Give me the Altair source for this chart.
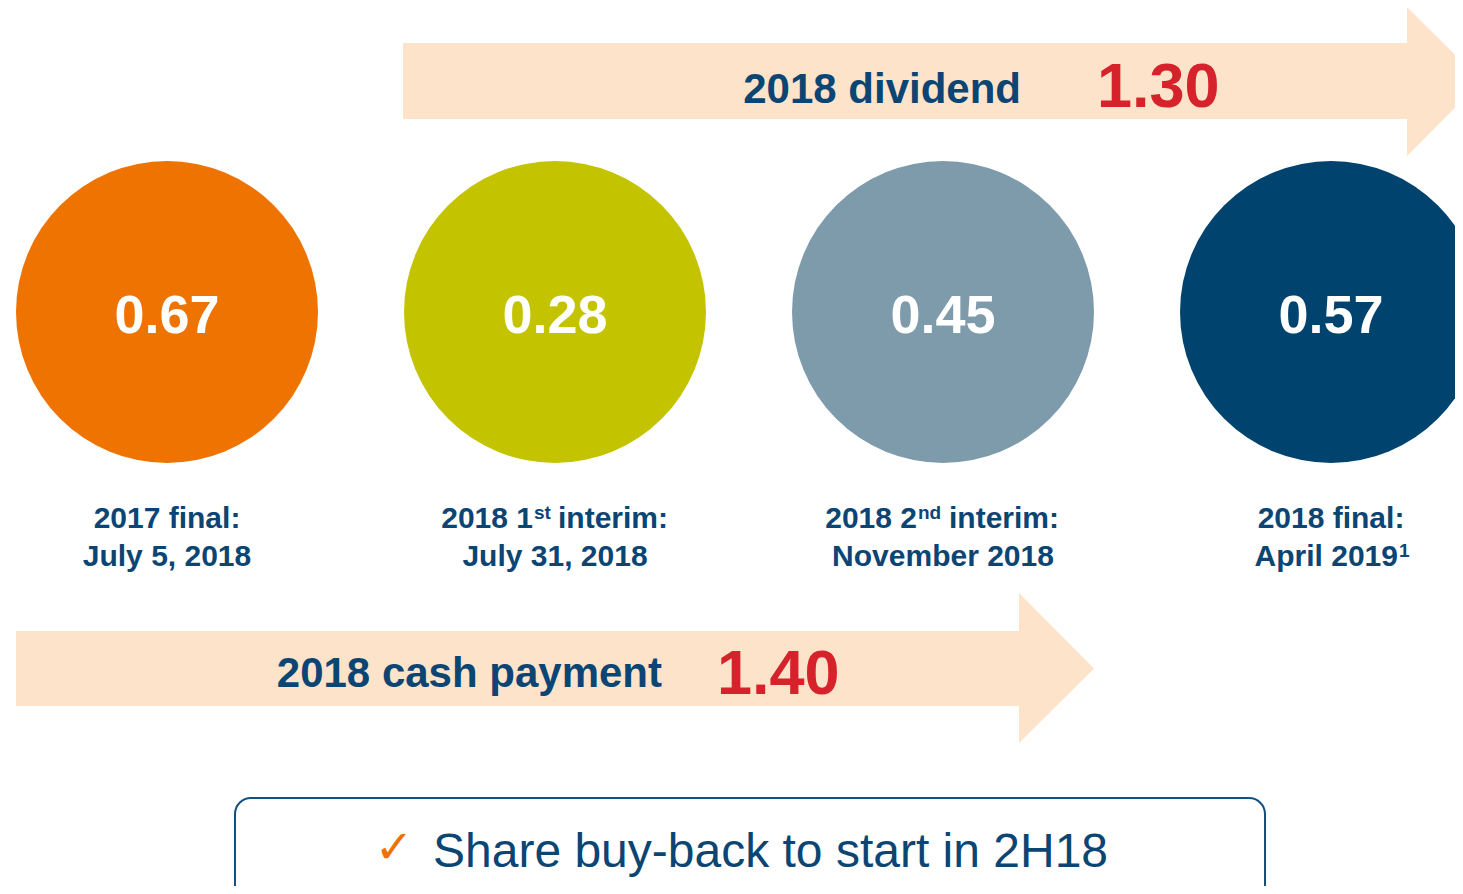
import altair as alt
import pandas as pd

# ---------------- data ----------------
amounts = [0.67, 0.28, 0.45, 0.57]
circle_colors = ["#EF7300", "#C3C300", "#7E9BAB", "#00436E"]
label_line1 = ["2017 final:", "2018 1", "2018 2", "2018 final:"]
label_line1_sup = ["", "st", "nd", ""]
label_line1_post = ["", "interim:", "interim:", ""]
label_line2 = ["July 5, 2018", "July 31, 2018", "November 2018", "April 2019"]
label_line2_sup = ["", "", "", "1"]
dividend_label = "2018 dividend"
dividend_total = 1.30
cash_label = "2018 cash payment"
cash_total = 1.40
note_text = "Share buy-back to start in 2H18"

NAVY = "#0B4573"
RED = "#D6222B"
PEACH = "#FDE3C9"
ORANGE = "#EE7200"

# ---------------- layout (reference pixel space) ----------------
W, H = 1447, 878
xs = alt.Scale(domain=[8, 8 + W], range=[0, W])
ys = alt.Scale(domain=[8, 8 + H], range=[0, H])
X = lambda f="x": alt.X(f"{f}:Q", scale=xs, axis=None)
Y = lambda f="y": alt.Y(f"{f}:Q", scale=ys, axis=None, stack=None)

centers = [167, 555, 943, 1331]
cy = 312
diam = 302

# arrows: body (rect) + head (triangle area)
arrow_specs = [
    # name, x0, x1, body_y0, body_y1, head_y0, head_y1
    ("dividend", 403, 1407, 43, 119, 7, 156),
    ("cash", 16, 1019, 631, 706, 593, 743),
]
body_df = pd.DataFrame([{"arrow": n, "x": a, "x2": b, "y": c, "y2": d}
                        for n, a, b, c, d, e, f in arrow_specs])
head_rows = []
for n, a, b, c, d, e, f in arrow_specs:
    mid = (c + d) / 2
    head_rows.append({"arrow": n, "x": b, "y": e, "y2": f})
    head_rows.append({"arrow": n, "x": b + (f - e) / 2, "y": mid, "y2": mid})
head_df = pd.DataFrame(head_rows)

bodies = alt.Chart(body_df).mark_rect(color=PEACH, opacity=1, clip=True).encode(
    x=X(), x2="x2:Q", y=Y(), y2="y2:Q"
)
heads = alt.Chart(head_df).mark_area(color=PEACH, opacity=1, clip=True).encode(
    x=X(), y=Y(), y2="y2:Q", detail="arrow:N"
)

circ_df = pd.DataFrame({"x": centers, "y": [cy] * 4, "c": circle_colors,
                        "t": [f"{v:.2f}" for v in amounts], "yb": [333] * 4})
circles = alt.Chart(circ_df).mark_circle(size=diam * diam, opacity=1, clip=True).encode(
    x=X(), y=Y(), color=alt.Color("c:N", scale=None)
)
circ_text = alt.Chart(circ_df).mark_text(
    font="Liberation Sans", fontWeight="bold", fontSize=54, color="white",
    align="center", baseline="alphabetic"
).encode(x=X(), y=Y("yb"), text="t:N")


def text_layer(rows, align, weight="bold", font="Liberation Sans"):
    df = pd.DataFrame(rows, columns=["t", "x", "y", "s", "c"])
    return alt.Chart(df).mark_text(font=font, fontWeight=weight, align=align,
                                   baseline="alphabetic").encode(
        x=X(), y=Y(), text="t:N",
        size=alt.Size("s:Q", scale=None), color=alt.Color("c:N", scale=None)
    )


L1, L2, LS = 528, 566, 519
center_rows, left_rows, right_rows = [], [], []
sup_off = {1: (-22, 1, 3), 2: (-26, 1, 6)}
for i, cx in enumerate(centers):
    if label_line1_sup[i]:
        r, s, p = sup_off[i]
        right_rows.append((label_line1[i], cx + r, L1, 30, NAVY))
        left_rows.append((label_line1_sup[i], cx + r + s, LS, 19, NAVY))
        left_rows.append((label_line1_post[i], cx + p, L1, 30, NAVY))
    else:
        center_rows.append((label_line1[i], cx, L1, 30, NAVY))
    if label_line2_sup[i]:
        right_rows.append((label_line2[i], cx + 67, L2, 30, NAVY))
        left_rows.append((label_line2_sup[i], cx + 68, LS + 38, 19, NAVY))
    else:
        center_rows.append((label_line2[i], cx, L2, 30, NAVY))

right_rows += [(dividend_label, 1021, 103, 42, NAVY), (cash_label, 662, 687, 42, NAVY)]
left_rows += [(f"{dividend_total:.2f}", 1097, 107, 63, RED), (f"{cash_total:.2f}", 717, 694, 63, RED)]

box_df = pd.DataFrame({"x": [235], "x2": [1265], "y": [798], "y2": [920]})
box = alt.Chart(box_df).mark_rect(fill="white", stroke="#14507F", strokeWidth=2,
                                  cornerRadius=16, clip=True).encode(
    x=X(), x2="x2:Q", y=Y(), y2="y2:Q"
)

note = text_layer([(note_text, 433, 867, 48, NAVY)], "left", weight="normal")
check = text_layer([("\u2713", 394, 863, 46, ORANGE)], "center", weight="normal", font="DejaVu Sans")

chart = alt.layer(
    bodies, heads, circles, circ_text,
    text_layer(center_rows, "center"),
    text_layer(left_rows, "left"),
    text_layer(right_rows, "right"),
    box, note, check,
).properties(
    width=W, height=H, padding=0,
    autosize=alt.AutoSizeParams(type="none"),
    background="white",
).configure_view(stroke=None)

chart.save("out.html", embed_options={"renderer": "svg", "actions": False})
